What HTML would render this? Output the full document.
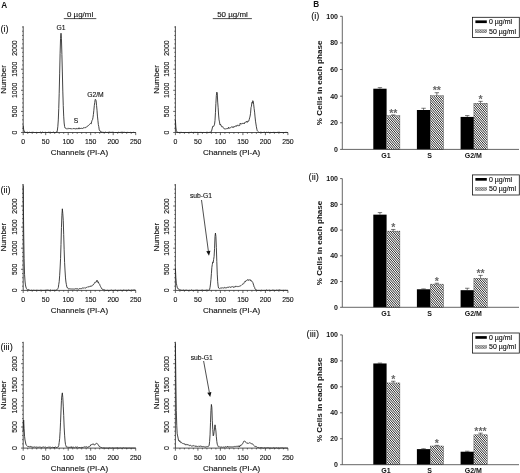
<!DOCTYPE html>
<html><head><meta charset="utf-8"><title>Figure</title>
<style>
html,body{margin:0;padding:0;background:#fff;}
body{width:520px;height:473px;overflow:hidden;}
svg{display:block;will-change:transform;font-family:"Liberation Sans",Arial,sans-serif;}
.ax{fill:none;stroke:#333;stroke-width:0.85;}
.tk{fill:none;stroke:#2a2a2a;stroke-width:0.7;}
.cv{fill:none;stroke:#222;stroke-width:0.85;stroke-linejoin:round;}
.tl{font-size:6.9px;fill:#111;stroke:#111;stroke-width:0.12;}
.al{font-size:8.05px;fill:#111;stroke:#111;stroke-width:0.12;}
.pl{font-size:6.75px;fill:#111;stroke:#111;stroke-width:0.12;}
.ttl{font-size:7.95px;fill:#111;stroke:#111;stroke-width:0.12;}
.pan{font-size:8.2px;font-weight:bold;fill:#111;}
.sub{font-size:9.3px;fill:#111;stroke:#111;stroke-width:0.1;}
.bax{fill:none;stroke:#333;stroke-width:0.75;}
.eb{fill:none;stroke:#222;stroke-width:0.6;}
.btl{font-size:7px;font-weight:bold;fill:#111;}
.byl{font-size:8.1px;font-weight:bold;fill:#111;}
.lg{font-size:7px;fill:#000;stroke:#000;stroke-width:0.1;}
.star{font-size:10.6px;fill:#666;font-weight:bold;}
.arr{fill:none;stroke:#222;stroke-width:0.8;}
</style></head><body>
<svg width="520" height="473" viewBox="0 0 520 473">
<defs>
<pattern id="h1" width="1.55" height="1.55" patternUnits="userSpaceOnUse" patternTransform="rotate(-45)">
<rect width="1.55" height="1.55" fill="#fff"/><rect width="0.75" height="1.55" fill="#2a2a2a"/>
</pattern>
</defs>
<rect width="520" height="473" fill="#fff"/>
<path d="M23.20,26.20 V132.50 H135.70" class="ax"/>
<path d="M21.00,132.50H23.20M22.10,128.28H23.20M22.10,124.06H23.20M22.10,119.84H23.20M22.10,115.62H23.20M21.00,111.40H23.20M22.10,107.18H23.20M22.10,102.96H23.20M22.10,98.74H23.20M22.10,94.52H23.20M21.00,90.30H23.20M22.10,86.08H23.20M22.10,81.86H23.20M22.10,77.64H23.20M22.10,73.42H23.20M21.00,69.20H23.20M22.10,64.98H23.20M22.10,60.76H23.20M22.10,56.54H23.20M22.10,52.32H23.20M21.00,48.10H23.20M22.10,43.88H23.20M22.10,39.66H23.20M22.10,35.44H23.20M22.10,31.22H23.20M22.10,27.00H23.20M23.20,132.50v2.6M27.70,132.50v1.3M32.20,132.50v1.3M36.70,132.50v1.3M41.20,132.50v1.3M45.70,132.50v2.6M50.20,132.50v1.3M54.70,132.50v1.3M59.20,132.50v1.3M63.70,132.50v1.3M68.20,132.50v2.6M72.70,132.50v1.3M77.20,132.50v1.3M81.70,132.50v1.3M86.20,132.50v1.3M90.70,132.50v2.6M95.20,132.50v1.3M99.70,132.50v1.3M104.20,132.50v1.3M108.70,132.50v1.3M113.20,132.50v2.6M117.70,132.50v1.3M122.20,132.50v1.3M126.70,132.50v1.3M131.20,132.50v1.3M135.70,132.50v2.6" class="tk"/>
<text x="23.20" y="144.40" class="tl" text-anchor="middle">0</text>
<text x="45.70" y="144.40" class="tl" text-anchor="middle">50</text>
<text x="68.20" y="144.40" class="tl" text-anchor="middle">100</text>
<text x="90.70" y="144.40" class="tl" text-anchor="middle">150</text>
<text x="113.20" y="144.40" class="tl" text-anchor="middle">200</text>
<text x="135.70" y="144.40" class="tl" text-anchor="middle">250</text>
<text transform="translate(16.60,132.50) rotate(-90)" class="tl" text-anchor="middle">0</text>
<text transform="translate(16.60,111.40) rotate(-90)" class="tl" text-anchor="middle">500</text>
<text transform="translate(16.60,90.30) rotate(-90)" class="tl" text-anchor="middle">1000</text>
<text transform="translate(16.60,69.20) rotate(-90)" class="tl" text-anchor="middle">1500</text>
<text transform="translate(16.60,48.10) rotate(-90)" class="tl" text-anchor="middle">2000</text>
<text transform="translate(6.30,79.35) rotate(-90)" class="al" text-anchor="middle">Number</text>
<text x="79.45" y="154.90" class="al" text-anchor="middle">Channels (PI-A)</text>
<path d="M23.20,125.58 L23.65,129.44 L24.10,130.98 L24.55,131.93 L25.00,131.83 L25.45,132.50 L25.90,131.94 L26.35,132.50 L26.80,132.39 L27.25,132.50 L27.70,132.12 L28.15,132.50 L28.60,132.50 L29.05,132.50 L29.50,132.21 L29.95,132.50 L30.40,132.50 L30.85,132.50 L31.30,132.49 L31.75,132.35 L32.20,132.50 L32.65,132.21 L33.10,132.27 L33.55,132.37 L34.00,132.27 L34.45,132.50 L34.90,132.50 L35.35,132.50 L35.80,132.50 L36.25,132.37 L36.70,132.50 L37.15,132.50 L37.60,132.50 L38.05,132.50 L38.50,132.50 L38.95,132.50 L39.40,132.50 L39.85,132.44 L40.30,132.08 L40.75,132.31 L41.20,132.50 L41.65,132.50 L42.10,132.50 L42.55,132.07 L43.00,132.49 L43.45,132.50 L43.90,132.45 L44.35,131.97 L44.80,132.47 L45.25,132.34 L45.70,132.42 L46.15,132.50 L46.60,132.50 L47.05,132.50 L47.50,132.50 L47.95,132.35 L48.40,132.29 L48.85,132.26 L49.30,132.43 L49.75,132.28 L50.20,132.50 L50.65,132.18 L51.10,132.37 L51.55,132.50 L52.00,132.38 L52.45,132.50 L52.90,132.21 L53.35,132.12 L53.80,131.95 L54.25,132.50 L54.70,132.50 L55.15,132.50 L55.60,132.43 L56.05,132.18 L56.50,132.10 L56.95,132.10 L57.40,130.09 L57.85,126.29 L58.30,119.91 L58.75,108.51 L59.20,93.32 L59.65,73.87 L60.10,53.70 L60.55,38.43 L61.00,33.23 L61.45,38.75 L61.90,54.52 L62.35,71.98 L62.80,91.10 L63.25,105.57 L63.70,116.19 L64.15,123.00 L64.60,126.47 L65.05,128.03 L65.50,128.27 L65.95,128.59 L66.40,128.79 L66.85,128.68 L67.30,128.90 L67.75,128.48 L68.20,128.85 L68.65,128.31 L69.10,128.57 L69.55,128.51 L70.00,129.05 L70.45,128.65 L70.90,128.47 L71.35,129.01 L71.80,128.79 L72.25,128.69 L72.70,129.14 L73.15,128.60 L73.60,128.43 L74.05,128.98 L74.50,128.59 L74.95,129.12 L75.40,128.71 L75.85,129.22 L76.30,128.34 L76.75,128.57 L77.20,128.71 L77.65,128.91 L78.10,128.21 L78.55,127.94 L79.00,129.13 L79.45,128.09 L79.90,127.92 L80.35,128.29 L80.80,128.75 L81.25,128.03 L81.70,128.33 L82.15,128.41 L82.60,128.57 L83.05,127.92 L83.50,127.77 L83.95,128.16 L84.40,127.68 L84.85,128.13 L85.30,127.33 L85.75,127.42 L86.20,127.29 L86.65,127.02 L87.10,126.40 L87.55,126.11 L88.00,125.82 L88.45,125.56 L88.90,125.16 L89.35,124.50 L89.80,124.20 L90.25,123.58 L90.70,123.54 L91.15,123.95 L91.60,121.86 L92.05,120.42 L92.50,119.73 L92.95,117.71 L93.40,114.46 L93.85,110.29 L94.30,105.63 L94.75,102.45 L95.20,99.41 L95.65,99.55 L96.10,100.73 L96.55,105.40 L97.00,110.22 L97.45,116.10 L97.90,120.38 L98.35,124.57 L98.80,126.67 L99.25,129.89 L99.70,130.71 L100.15,131.04 L100.60,131.08 L101.05,132.10 L101.50,132.20 L101.95,132.38 L102.40,132.05 L102.85,132.50 L103.30,132.29 L103.75,132.50 L104.20,132.50 L104.65,132.41 L105.10,132.37 L105.55,132.17 L106.00,132.50 L106.45,132.50 L106.90,132.36 L107.35,132.44 L107.80,132.43 L108.25,132.50 L108.70,132.21 L109.15,132.41 L109.60,132.02 L110.05,132.22 L110.50,132.33 L110.95,132.50 L111.40,132.35 L111.85,132.39 L112.30,132.29 L112.75,132.24 L113.20,132.50 L113.65,132.29 L114.10,132.50 L114.55,132.01 L115.00,132.50 L115.45,132.50 L115.90,132.50 L116.35,132.50 L116.80,132.50 L117.25,132.00 L117.70,132.50 L118.15,132.50 L118.60,132.22 L119.05,132.50 L119.50,132.50 L119.95,132.28 L120.40,132.34 L120.85,132.50 L121.30,132.14 L121.75,132.47 L122.20,132.09 L122.65,132.37 L123.10,132.11 L123.55,132.47 L124.00,132.50 L124.45,131.88 L124.90,132.50 L125.35,132.50 L125.80,132.50 L126.25,132.50 L126.70,132.44 L127.15,132.45 L127.60,132.33 L128.05,132.05 L128.50,132.50 L128.95,132.50 L129.40,132.50 L129.85,132.50 L130.30,132.50 L130.75,132.29 L131.20,132.50 L131.65,132.50 L132.10,132.50 L132.55,132.50 L133.00,132.50 L133.45,132.33 L133.90,132.34 L134.35,132.50 L134.80,132.04 L135.25,132.50 L135.70,132.50" class="cv"/>
<path d="M175.40,26.20 V132.50 H287.90" class="ax"/>
<path d="M173.20,132.50H175.40M174.30,128.28H175.40M174.30,124.06H175.40M174.30,119.84H175.40M174.30,115.62H175.40M173.20,111.40H175.40M174.30,107.18H175.40M174.30,102.96H175.40M174.30,98.74H175.40M174.30,94.52H175.40M173.20,90.30H175.40M174.30,86.08H175.40M174.30,81.86H175.40M174.30,77.64H175.40M174.30,73.42H175.40M173.20,69.20H175.40M174.30,64.98H175.40M174.30,60.76H175.40M174.30,56.54H175.40M174.30,52.32H175.40M173.20,48.10H175.40M174.30,43.88H175.40M174.30,39.66H175.40M174.30,35.44H175.40M174.30,31.22H175.40M174.30,27.00H175.40M175.40,132.50v2.6M179.90,132.50v1.3M184.40,132.50v1.3M188.90,132.50v1.3M193.40,132.50v1.3M197.90,132.50v2.6M202.40,132.50v1.3M206.90,132.50v1.3M211.40,132.50v1.3M215.90,132.50v1.3M220.40,132.50v2.6M224.90,132.50v1.3M229.40,132.50v1.3M233.90,132.50v1.3M238.40,132.50v1.3M242.90,132.50v2.6M247.40,132.50v1.3M251.90,132.50v1.3M256.40,132.50v1.3M260.90,132.50v1.3M265.40,132.50v2.6M269.90,132.50v1.3M274.40,132.50v1.3M278.90,132.50v1.3M283.40,132.50v1.3M287.90,132.50v2.6" class="tk"/>
<text x="175.40" y="144.40" class="tl" text-anchor="middle">0</text>
<text x="197.90" y="144.40" class="tl" text-anchor="middle">50</text>
<text x="220.40" y="144.40" class="tl" text-anchor="middle">100</text>
<text x="242.90" y="144.40" class="tl" text-anchor="middle">150</text>
<text x="265.40" y="144.40" class="tl" text-anchor="middle">200</text>
<text x="287.90" y="144.40" class="tl" text-anchor="middle">250</text>
<text transform="translate(168.80,132.50) rotate(-90)" class="tl" text-anchor="middle">0</text>
<text transform="translate(168.80,111.40) rotate(-90)" class="tl" text-anchor="middle">500</text>
<text transform="translate(168.80,90.30) rotate(-90)" class="tl" text-anchor="middle">1000</text>
<text transform="translate(168.80,69.20) rotate(-90)" class="tl" text-anchor="middle">1500</text>
<text transform="translate(168.80,48.10) rotate(-90)" class="tl" text-anchor="middle">2000</text>
<text transform="translate(158.50,79.35) rotate(-90)" class="al" text-anchor="middle">Number</text>
<text x="231.65" y="154.90" class="al" text-anchor="middle">Channels (PI-A)</text>
<path d="M175.40,120.04 L175.85,127.02 L176.30,130.74 L176.75,131.02 L177.20,132.50 L177.65,132.50 L178.10,132.29 L178.55,132.50 L179.00,132.50 L179.45,132.50 L179.90,132.36 L180.35,131.92 L180.80,132.49 L181.25,132.50 L181.70,132.36 L182.15,132.50 L182.60,132.50 L183.05,132.20 L183.50,132.50 L183.95,132.50 L184.40,132.50 L184.85,132.50 L185.30,132.44 L185.75,132.50 L186.20,132.50 L186.65,132.50 L187.10,132.50 L187.55,132.50 L188.00,132.50 L188.45,132.50 L188.90,132.50 L189.35,131.94 L189.80,132.50 L190.25,132.47 L190.70,132.41 L191.15,132.16 L191.60,132.37 L192.05,132.50 L192.50,132.50 L192.95,132.36 L193.40,132.50 L193.85,132.30 L194.30,132.50 L194.75,132.06 L195.20,132.13 L195.65,132.50 L196.10,132.35 L196.55,132.49 L197.00,132.50 L197.45,132.48 L197.90,132.25 L198.35,132.50 L198.80,132.50 L199.25,132.50 L199.70,132.39 L200.15,132.18 L200.60,132.50 L201.05,132.37 L201.50,132.45 L201.95,132.50 L202.40,132.50 L202.85,132.50 L203.30,132.50 L203.75,132.42 L204.20,132.50 L204.65,132.49 L205.10,132.50 L205.55,132.50 L206.00,132.37 L206.45,132.31 L206.90,132.50 L207.35,132.29 L207.80,132.50 L208.25,132.48 L208.70,132.50 L209.15,132.10 L209.60,132.50 L210.05,132.48 L210.50,132.17 L210.95,132.50 L211.40,131.34 L211.85,130.02 L212.30,128.02 L212.75,126.27 L213.20,126.05 L213.65,126.47 L214.10,125.55 L214.55,124.15 L215.00,120.54 L215.45,112.67 L215.90,103.47 L216.35,95.39 L216.80,92.14 L217.25,93.07 L217.70,102.11 L218.15,107.80 L218.60,115.02 L219.05,119.92 L219.50,121.91 L219.95,124.71 L220.40,124.08 L220.85,125.01 L221.30,126.20 L221.75,126.26 L222.20,127.11 L222.65,126.65 L223.10,127.35 L223.55,128.14 L224.00,128.75 L224.45,128.83 L224.90,128.80 L225.35,128.87 L225.80,128.94 L226.25,128.78 L226.70,128.61 L227.15,128.60 L227.60,128.57 L228.05,128.55 L228.50,127.30 L228.95,128.52 L229.40,128.27 L229.85,127.67 L230.30,127.81 L230.75,127.43 L231.20,127.18 L231.65,126.90 L232.10,126.94 L232.55,127.42 L233.00,126.55 L233.45,127.43 L233.90,126.71 L234.35,126.71 L234.80,126.78 L235.25,126.04 L235.70,126.17 L236.15,125.58 L236.60,126.36 L237.05,125.34 L237.50,125.32 L237.95,125.31 L238.40,125.74 L238.85,125.14 L239.30,125.48 L239.75,125.53 L240.20,123.27 L240.65,124.01 L241.10,123.51 L241.55,124.23 L242.00,123.61 L242.45,123.44 L242.90,123.30 L243.35,123.38 L243.80,123.30 L244.25,123.89 L244.70,122.59 L245.15,122.49 L245.60,122.01 L246.05,122.43 L246.50,121.36 L246.95,122.12 L247.40,122.26 L247.85,121.02 L248.30,121.27 L248.75,121.07 L249.20,119.54 L249.65,117.84 L250.10,116.09 L250.55,113.24 L251.00,107.64 L251.45,106.23 L251.90,102.48 L252.35,103.18 L252.80,100.68 L253.25,101.37 L253.70,104.76 L254.15,108.72 L254.60,112.13 L255.05,116.92 L255.50,121.15 L255.95,123.99 L256.40,126.80 L256.85,129.18 L257.30,130.72 L257.75,131.26 L258.20,131.66 L258.65,131.98 L259.10,132.50 L259.55,132.47 L260.00,132.34 L260.45,132.30 L260.90,132.24 L261.35,132.30 L261.80,132.50 L262.25,132.50 L262.70,132.50 L263.15,132.04 L263.60,132.45 L264.05,132.36 L264.50,132.24 L264.95,132.50 L265.40,132.50 L265.85,132.50 L266.30,132.50 L266.75,132.12 L267.20,132.28 L267.65,132.50 L268.10,132.33 L268.55,132.31 L269.00,132.50 L269.45,132.50 L269.90,132.50 L270.35,132.42 L270.80,132.50 L271.25,132.50 L271.70,132.50 L272.15,132.44 L272.60,132.50 L273.05,132.42 L273.50,132.36 L273.95,132.50 L274.40,132.50 L274.85,131.96 L275.30,132.47 L275.75,132.50 L276.20,132.48 L276.65,132.50 L277.10,132.21 L277.55,132.41 L278.00,132.23 L278.45,132.27 L278.90,132.40 L279.35,132.25 L279.80,132.45 L280.25,132.50 L280.70,132.50 L281.15,132.50 L281.60,132.50 L282.05,132.04 L282.50,132.50 L282.95,132.50 L283.40,132.50 L283.85,132.50 L284.30,132.50 L284.75,132.50 L285.20,132.50 L285.65,132.36 L286.10,132.50 L286.55,132.40 L287.00,132.37 L287.45,132.50 L287.90,132.50" class="cv"/>
<path d="M23.20,184.10 V290.40 H135.70" class="ax"/>
<path d="M21.00,290.40H23.20M22.10,286.18H23.20M22.10,281.96H23.20M22.10,277.74H23.20M22.10,273.52H23.20M21.00,269.30H23.20M22.10,265.08H23.20M22.10,260.86H23.20M22.10,256.64H23.20M22.10,252.42H23.20M21.00,248.20H23.20M22.10,243.98H23.20M22.10,239.76H23.20M22.10,235.54H23.20M22.10,231.32H23.20M21.00,227.10H23.20M22.10,222.88H23.20M22.10,218.66H23.20M22.10,214.44H23.20M22.10,210.22H23.20M21.00,206.00H23.20M22.10,201.78H23.20M22.10,197.56H23.20M22.10,193.34H23.20M22.10,189.12H23.20M22.10,184.90H23.20M23.20,290.40v2.6M27.70,290.40v1.3M32.20,290.40v1.3M36.70,290.40v1.3M41.20,290.40v1.3M45.70,290.40v2.6M50.20,290.40v1.3M54.70,290.40v1.3M59.20,290.40v1.3M63.70,290.40v1.3M68.20,290.40v2.6M72.70,290.40v1.3M77.20,290.40v1.3M81.70,290.40v1.3M86.20,290.40v1.3M90.70,290.40v2.6M95.20,290.40v1.3M99.70,290.40v1.3M104.20,290.40v1.3M108.70,290.40v1.3M113.20,290.40v2.6M117.70,290.40v1.3M122.20,290.40v1.3M126.70,290.40v1.3M131.20,290.40v1.3M135.70,290.40v2.6" class="tk"/>
<text x="23.20" y="302.30" class="tl" text-anchor="middle">0</text>
<text x="45.70" y="302.30" class="tl" text-anchor="middle">50</text>
<text x="68.20" y="302.30" class="tl" text-anchor="middle">100</text>
<text x="90.70" y="302.30" class="tl" text-anchor="middle">150</text>
<text x="113.20" y="302.30" class="tl" text-anchor="middle">200</text>
<text x="135.70" y="302.30" class="tl" text-anchor="middle">250</text>
<text transform="translate(16.60,290.40) rotate(-90)" class="tl" text-anchor="middle">0</text>
<text transform="translate(16.60,269.30) rotate(-90)" class="tl" text-anchor="middle">500</text>
<text transform="translate(16.60,248.20) rotate(-90)" class="tl" text-anchor="middle">1000</text>
<text transform="translate(16.60,227.10) rotate(-90)" class="tl" text-anchor="middle">1500</text>
<text transform="translate(16.60,206.00) rotate(-90)" class="tl" text-anchor="middle">2000</text>
<text transform="translate(6.30,237.25) rotate(-90)" class="al" text-anchor="middle">Number</text>
<text x="79.45" y="312.80" class="al" text-anchor="middle">Channels (PI-A)</text>
<path d="M23.20,185.74 L23.65,228.98 L24.10,258.54 L24.55,274.34 L25.00,280.97 L25.45,284.95 L25.90,287.00 L26.35,288.37 L26.80,288.92 L27.25,289.48 L27.70,290.00 L28.15,289.61 L28.60,289.75 L29.05,289.64 L29.50,290.15 L29.95,290.32 L30.40,290.40 L30.85,290.40 L31.30,290.07 L31.75,290.40 L32.20,290.40 L32.65,290.40 L33.10,289.99 L33.55,290.32 L34.00,290.40 L34.45,290.40 L34.90,290.23 L35.35,290.40 L35.80,290.40 L36.25,290.40 L36.70,290.21 L37.15,289.90 L37.60,290.40 L38.05,290.40 L38.50,290.40 L38.95,290.40 L39.40,290.40 L39.85,290.40 L40.30,290.11 L40.75,290.40 L41.20,290.40 L41.65,290.24 L42.10,290.40 L42.55,290.40 L43.00,290.40 L43.45,290.40 L43.90,290.40 L44.35,290.39 L44.80,290.40 L45.25,290.40 L45.70,290.14 L46.15,290.18 L46.60,290.12 L47.05,290.12 L47.50,290.02 L47.95,290.40 L48.40,290.19 L48.85,290.40 L49.30,290.40 L49.75,290.40 L50.20,290.13 L50.65,290.06 L51.10,290.40 L51.55,289.95 L52.00,290.40 L52.45,290.36 L52.90,290.36 L53.35,290.40 L53.80,290.29 L54.25,289.91 L54.70,290.40 L55.15,290.16 L55.60,290.40 L56.05,289.87 L56.50,290.08 L56.95,289.79 L57.40,289.32 L57.85,288.56 L58.30,287.59 L58.75,284.29 L59.20,281.73 L59.65,275.77 L60.10,268.01 L60.55,258.72 L61.00,244.39 L61.45,227.59 L61.90,215.21 L62.35,208.81 L62.80,213.62 L63.25,220.36 L63.70,234.67 L64.15,249.75 L64.60,262.63 L65.05,270.99 L65.50,277.93 L65.95,282.05 L66.40,284.62 L66.85,286.94 L67.30,287.83 L67.75,287.71 L68.20,288.40 L68.65,289.17 L69.10,288.90 L69.55,288.75 L70.00,288.57 L70.45,288.88 L70.90,289.07 L71.35,289.13 L71.80,288.74 L72.25,288.84 L72.70,289.07 L73.15,288.98 L73.60,289.04 L74.05,288.72 L74.50,289.12 L74.95,288.79 L75.40,288.68 L75.85,288.79 L76.30,289.15 L76.75,288.54 L77.20,289.11 L77.65,288.76 L78.10,289.05 L78.55,289.29 L79.00,288.70 L79.45,288.64 L79.90,288.70 L80.35,288.55 L80.80,288.76 L81.25,288.73 L81.70,288.51 L82.15,287.85 L82.60,288.09 L83.05,288.40 L83.50,288.01 L83.95,288.22 L84.40,288.12 L84.85,287.62 L85.30,287.93 L85.75,288.16 L86.20,287.81 L86.65,287.39 L87.10,287.25 L87.55,286.78 L88.00,287.27 L88.45,286.70 L88.90,286.67 L89.35,286.73 L89.80,286.29 L90.25,286.26 L90.70,286.53 L91.15,285.74 L91.60,286.30 L92.05,285.62 L92.50,285.32 L92.95,284.78 L93.40,284.74 L93.85,283.98 L94.30,283.48 L94.75,282.48 L95.20,282.65 L95.65,281.84 L96.10,281.62 L96.55,281.84 L97.00,280.17 L97.45,281.47 L97.90,282.40 L98.35,281.78 L98.80,283.45 L99.25,283.71 L99.70,284.43 L100.15,285.84 L100.60,286.62 L101.05,287.44 L101.50,288.01 L101.95,289.02 L102.40,289.38 L102.85,289.45 L103.30,289.43 L103.75,289.75 L104.20,289.63 L104.65,290.01 L105.10,290.39 L105.55,290.34 L106.00,290.40 L106.45,290.40 L106.90,290.40 L107.35,290.32 L107.80,290.23 L108.25,290.40 L108.70,290.40 L109.15,290.40 L109.60,290.40 L110.05,290.34 L110.50,290.29 L110.95,290.40 L111.40,289.90 L111.85,290.10 L112.30,290.40 L112.75,290.40 L113.20,290.40 L113.65,290.36 L114.10,290.40 L114.55,290.28 L115.00,290.21 L115.45,290.05 L115.90,290.11 L116.35,290.40 L116.80,290.30 L117.25,290.40 L117.70,290.40 L118.15,289.92 L118.60,290.40 L119.05,289.90 L119.50,290.40 L119.95,290.34 L120.40,290.12 L120.85,290.39 L121.30,290.30 L121.75,290.40 L122.20,290.40 L122.65,290.40 L123.10,290.40 L123.55,289.99 L124.00,290.40 L124.45,289.96 L124.90,290.40 L125.35,290.40 L125.80,290.26 L126.25,290.40 L126.70,290.12 L127.15,290.24 L127.60,290.40 L128.05,290.29 L128.50,289.69 L128.95,290.34 L129.40,290.32 L129.85,290.40 L130.30,290.37 L130.75,290.40 L131.20,290.40 L131.65,289.78 L132.10,290.13 L132.55,290.24 L133.00,290.12 L133.45,289.92 L133.90,290.25 L134.35,289.88 L134.80,290.13 L135.25,290.36 L135.70,289.96" class="cv"/>
<path d="M175.40,184.10 V290.40 H287.90" class="ax"/>
<path d="M173.20,290.40H175.40M174.30,286.18H175.40M174.30,281.96H175.40M174.30,277.74H175.40M174.30,273.52H175.40M173.20,269.30H175.40M174.30,265.08H175.40M174.30,260.86H175.40M174.30,256.64H175.40M174.30,252.42H175.40M173.20,248.20H175.40M174.30,243.98H175.40M174.30,239.76H175.40M174.30,235.54H175.40M174.30,231.32H175.40M173.20,227.10H175.40M174.30,222.88H175.40M174.30,218.66H175.40M174.30,214.44H175.40M174.30,210.22H175.40M173.20,206.00H175.40M174.30,201.78H175.40M174.30,197.56H175.40M174.30,193.34H175.40M174.30,189.12H175.40M174.30,184.90H175.40M175.40,290.40v2.6M179.90,290.40v1.3M184.40,290.40v1.3M188.90,290.40v1.3M193.40,290.40v1.3M197.90,290.40v2.6M202.40,290.40v1.3M206.90,290.40v1.3M211.40,290.40v1.3M215.90,290.40v1.3M220.40,290.40v2.6M224.90,290.40v1.3M229.40,290.40v1.3M233.90,290.40v1.3M238.40,290.40v1.3M242.90,290.40v2.6M247.40,290.40v1.3M251.90,290.40v1.3M256.40,290.40v1.3M260.90,290.40v1.3M265.40,290.40v2.6M269.90,290.40v1.3M274.40,290.40v1.3M278.90,290.40v1.3M283.40,290.40v1.3M287.90,290.40v2.6" class="tk"/>
<text x="175.40" y="302.30" class="tl" text-anchor="middle">0</text>
<text x="197.90" y="302.30" class="tl" text-anchor="middle">50</text>
<text x="220.40" y="302.30" class="tl" text-anchor="middle">100</text>
<text x="242.90" y="302.30" class="tl" text-anchor="middle">150</text>
<text x="265.40" y="302.30" class="tl" text-anchor="middle">200</text>
<text x="287.90" y="302.30" class="tl" text-anchor="middle">250</text>
<text transform="translate(168.80,290.40) rotate(-90)" class="tl" text-anchor="middle">0</text>
<text transform="translate(168.80,269.30) rotate(-90)" class="tl" text-anchor="middle">500</text>
<text transform="translate(168.80,248.20) rotate(-90)" class="tl" text-anchor="middle">1000</text>
<text transform="translate(168.80,227.10) rotate(-90)" class="tl" text-anchor="middle">1500</text>
<text transform="translate(168.80,206.00) rotate(-90)" class="tl" text-anchor="middle">2000</text>
<text transform="translate(158.50,237.25) rotate(-90)" class="al" text-anchor="middle">Number</text>
<text x="231.65" y="312.80" class="al" text-anchor="middle">Channels (PI-A)</text>
<path d="M175.40,268.42 L175.85,277.58 L176.30,283.15 L176.75,285.25 L177.20,287.18 L177.65,288.47 L178.10,288.81 L178.55,288.88 L179.00,289.26 L179.45,289.88 L179.90,289.58 L180.35,289.90 L180.80,289.88 L181.25,289.98 L181.70,290.40 L182.15,290.10 L182.60,290.39 L183.05,289.87 L183.50,290.11 L183.95,290.30 L184.40,290.40 L184.85,290.33 L185.30,290.31 L185.75,290.40 L186.20,289.81 L186.65,290.28 L187.10,289.95 L187.55,290.40 L188.00,289.97 L188.45,290.40 L188.90,290.40 L189.35,290.26 L189.80,290.38 L190.25,290.40 L190.70,290.40 L191.15,290.19 L191.60,289.87 L192.05,290.17 L192.50,290.40 L192.95,290.20 L193.40,290.40 L193.85,290.27 L194.30,290.40 L194.75,290.40 L195.20,290.40 L195.65,290.20 L196.10,290.40 L196.55,290.10 L197.00,290.40 L197.45,290.19 L197.90,290.20 L198.35,290.40 L198.80,290.39 L199.25,290.39 L199.70,290.40 L200.15,290.35 L200.60,290.40 L201.05,290.26 L201.50,290.27 L201.95,290.32 L202.40,289.77 L202.85,290.31 L203.30,290.38 L203.75,290.40 L204.20,290.32 L204.65,290.40 L205.10,290.08 L205.55,290.40 L206.00,290.36 L206.45,289.90 L206.90,290.10 L207.35,290.34 L207.80,290.04 L208.25,290.38 L208.70,290.07 L209.15,289.97 L209.60,289.44 L210.05,287.34 L210.50,283.93 L210.95,279.46 L211.40,273.70 L211.85,267.36 L212.30,264.59 L212.75,261.92 L213.20,262.58 L213.65,259.34 L214.10,256.55 L214.55,248.67 L215.00,236.54 L215.45,233.05 L215.90,236.39 L216.35,247.32 L216.80,261.41 L217.25,274.11 L217.70,281.73 L218.15,286.13 L218.60,288.05 L219.05,288.39 L219.50,288.65 L219.95,288.27 L220.40,288.11 L220.85,288.06 L221.30,288.02 L221.75,288.18 L222.20,287.63 L222.65,288.10 L223.10,287.98 L223.55,288.04 L224.00,287.86 L224.45,287.91 L224.90,287.18 L225.35,287.61 L225.80,288.19 L226.25,287.76 L226.70,288.01 L227.15,287.26 L227.60,287.06 L228.05,287.57 L228.50,287.19 L228.95,287.39 L229.40,287.15 L229.85,286.69 L230.30,287.28 L230.75,287.51 L231.20,286.85 L231.65,286.86 L232.10,286.76 L232.55,286.60 L233.00,287.09 L233.45,287.44 L233.90,286.44 L234.35,286.85 L234.80,287.05 L235.25,286.99 L235.70,286.20 L236.15,286.45 L236.60,286.36 L237.05,286.12 L237.50,286.56 L237.95,286.65 L238.40,286.49 L238.85,286.50 L239.30,286.16 L239.75,286.26 L240.20,285.84 L240.65,285.88 L241.10,285.58 L241.55,285.12 L242.00,284.60 L242.45,284.20 L242.90,284.31 L243.35,283.84 L243.80,283.61 L244.25,282.49 L244.70,281.71 L245.15,282.01 L245.60,280.95 L246.05,280.98 L246.50,280.56 L246.95,280.13 L247.40,280.18 L247.85,279.46 L248.30,280.41 L248.75,280.00 L249.20,279.73 L249.65,280.16 L250.10,279.62 L250.55,280.59 L251.00,280.16 L251.45,281.21 L251.90,281.26 L252.35,281.85 L252.80,282.29 L253.25,284.01 L253.70,285.19 L254.15,286.97 L254.60,287.43 L255.05,288.94 L255.50,289.51 L255.95,290.15 L256.40,289.99 L256.85,289.92 L257.30,290.40 L257.75,290.40 L258.20,290.40 L258.65,290.40 L259.10,290.40 L259.55,290.40 L260.00,290.04 L260.45,290.40 L260.90,290.40 L261.35,290.31 L261.80,290.14 L262.25,290.40 L262.70,290.40 L263.15,290.39 L263.60,290.40 L264.05,290.18 L264.50,290.40 L264.95,290.40 L265.40,290.40 L265.85,290.38 L266.30,290.09 L266.75,289.99 L267.20,290.40 L267.65,290.40 L268.10,290.40 L268.55,289.86 L269.00,290.40 L269.45,290.28 L269.90,289.91 L270.35,290.40 L270.80,290.40 L271.25,290.40 L271.70,290.40 L272.15,290.20 L272.60,290.13 L273.05,290.40 L273.50,290.15 L273.95,290.40 L274.40,290.35 L274.85,290.35 L275.30,290.40 L275.75,290.40 L276.20,290.40 L276.65,289.92 L277.10,289.85 L277.55,290.38 L278.00,290.40 L278.45,290.11 L278.90,290.40 L279.35,289.96 L279.80,289.90 L280.25,289.98 L280.70,290.40 L281.15,290.40 L281.60,290.40 L282.05,290.40 L282.50,290.40 L282.95,290.10 L283.40,290.23 L283.85,290.40 L284.30,290.40 L284.75,290.24 L285.20,290.05 L285.65,290.40 L286.10,290.34 L286.55,290.40 L287.00,290.40 L287.45,290.40 L287.90,290.37" class="cv"/>
<path d="M23.20,341.80 V448.10 H135.70" class="ax"/>
<path d="M21.00,448.10H23.20M22.10,443.88H23.20M22.10,439.66H23.20M22.10,435.44H23.20M22.10,431.22H23.20M21.00,427.00H23.20M22.10,422.78H23.20M22.10,418.56H23.20M22.10,414.34H23.20M22.10,410.12H23.20M21.00,405.90H23.20M22.10,401.68H23.20M22.10,397.46H23.20M22.10,393.24H23.20M22.10,389.02H23.20M21.00,384.80H23.20M22.10,380.58H23.20M22.10,376.36H23.20M22.10,372.14H23.20M22.10,367.92H23.20M21.00,363.70H23.20M22.10,359.48H23.20M22.10,355.26H23.20M22.10,351.04H23.20M22.10,346.82H23.20M22.10,342.60H23.20M23.20,448.10v2.6M27.70,448.10v1.3M32.20,448.10v1.3M36.70,448.10v1.3M41.20,448.10v1.3M45.70,448.10v2.6M50.20,448.10v1.3M54.70,448.10v1.3M59.20,448.10v1.3M63.70,448.10v1.3M68.20,448.10v2.6M72.70,448.10v1.3M77.20,448.10v1.3M81.70,448.10v1.3M86.20,448.10v1.3M90.70,448.10v2.6M95.20,448.10v1.3M99.70,448.10v1.3M104.20,448.10v1.3M108.70,448.10v1.3M113.20,448.10v2.6M117.70,448.10v1.3M122.20,448.10v1.3M126.70,448.10v1.3M131.20,448.10v1.3M135.70,448.10v2.6" class="tk"/>
<text x="23.20" y="460.00" class="tl" text-anchor="middle">0</text>
<text x="45.70" y="460.00" class="tl" text-anchor="middle">50</text>
<text x="68.20" y="460.00" class="tl" text-anchor="middle">100</text>
<text x="90.70" y="460.00" class="tl" text-anchor="middle">150</text>
<text x="113.20" y="460.00" class="tl" text-anchor="middle">200</text>
<text x="135.70" y="460.00" class="tl" text-anchor="middle">250</text>
<text transform="translate(16.60,448.10) rotate(-90)" class="tl" text-anchor="middle">0</text>
<text transform="translate(16.60,427.00) rotate(-90)" class="tl" text-anchor="middle">500</text>
<text transform="translate(16.60,405.90) rotate(-90)" class="tl" text-anchor="middle">1000</text>
<text transform="translate(16.60,384.80) rotate(-90)" class="tl" text-anchor="middle">1500</text>
<text transform="translate(16.60,363.70) rotate(-90)" class="tl" text-anchor="middle">2000</text>
<text transform="translate(6.30,394.95) rotate(-90)" class="al" text-anchor="middle">Number</text>
<text x="79.45" y="470.50" class="al" text-anchor="middle">Channels (PI-A)</text>
<path d="M23.20,431.40 L23.65,420.04 L24.10,428.56 L24.55,436.31 L25.00,440.03 L25.45,441.94 L25.90,444.31 L26.35,445.16 L26.80,445.53 L27.25,446.06 L27.70,446.54 L28.15,446.40 L28.60,446.54 L29.05,446.35 L29.50,447.06 L29.95,446.85 L30.40,446.40 L30.85,446.27 L31.30,447.25 L31.75,446.71 L32.20,447.20 L32.65,447.21 L33.10,447.25 L33.55,447.16 L34.00,446.81 L34.45,446.91 L34.90,447.11 L35.35,447.25 L35.80,447.17 L36.25,447.22 L36.70,446.99 L37.15,447.39 L37.60,447.23 L38.05,447.27 L38.50,447.27 L38.95,447.20 L39.40,447.22 L39.85,446.92 L40.30,447.31 L40.75,446.87 L41.20,447.38 L41.65,447.43 L42.10,447.28 L42.55,447.21 L43.00,447.24 L43.45,446.97 L43.90,447.01 L44.35,447.19 L44.80,447.41 L45.25,447.35 L45.70,446.95 L46.15,447.27 L46.60,447.68 L47.05,447.51 L47.50,447.48 L47.95,447.02 L48.40,447.36 L48.85,446.73 L49.30,447.16 L49.75,447.30 L50.20,447.45 L50.65,447.08 L51.10,447.40 L51.55,447.56 L52.00,447.19 L52.45,447.33 L52.90,447.02 L53.35,447.36 L53.80,448.10 L54.25,447.13 L54.70,447.84 L55.15,446.93 L55.60,446.85 L56.05,447.45 L56.50,447.64 L56.95,447.69 L57.40,447.02 L57.85,447.13 L58.30,446.76 L58.75,445.54 L59.20,442.43 L59.65,438.73 L60.10,431.69 L60.55,422.20 L61.00,410.95 L61.45,400.38 L61.90,395.24 L62.35,392.87 L62.80,397.57 L63.25,406.13 L63.70,415.36 L64.15,427.07 L64.60,435.16 L65.05,441.12 L65.50,444.45 L65.95,445.80 L66.40,446.97 L66.85,447.30 L67.30,447.16 L67.75,447.19 L68.20,447.13 L68.65,447.29 L69.10,447.81 L69.55,447.17 L70.00,447.21 L70.45,447.07 L70.90,447.57 L71.35,446.67 L71.80,447.67 L72.25,447.15 L72.70,447.33 L73.15,447.47 L73.60,447.12 L74.05,447.42 L74.50,447.96 L74.95,447.65 L75.40,447.22 L75.85,446.74 L76.30,447.74 L76.75,447.34 L77.20,446.95 L77.65,447.18 L78.10,447.44 L78.55,447.72 L79.00,447.81 L79.45,447.54 L79.90,447.44 L80.35,447.94 L80.80,447.79 L81.25,447.26 L81.70,447.45 L82.15,447.54 L82.60,447.44 L83.05,447.55 L83.50,447.08 L83.95,446.89 L84.40,446.77 L84.85,447.12 L85.30,447.10 L85.75,446.90 L86.20,446.81 L86.65,446.85 L87.10,446.88 L87.55,447.33 L88.00,447.51 L88.45,446.70 L88.90,446.78 L89.35,446.49 L89.80,446.37 L90.25,446.07 L90.70,444.79 L91.15,444.64 L91.60,444.80 L92.05,444.17 L92.50,444.19 L92.95,444.25 L93.40,443.89 L93.85,444.74 L94.30,445.14 L94.75,444.57 L95.20,444.50 L95.65,443.76 L96.10,443.56 L96.55,443.37 L97.00,443.76 L97.45,443.76 L97.90,444.57 L98.35,444.87 L98.80,445.75 L99.25,446.55 L99.70,446.57 L100.15,447.27 L100.60,446.99 L101.05,447.47 L101.50,447.63 L101.95,447.83 L102.40,447.95 L102.85,448.10 L103.30,447.72 L103.75,448.10 L104.20,447.82 L104.65,448.10 L105.10,448.10 L105.55,448.10 L106.00,448.10 L106.45,448.10 L106.90,447.98 L107.35,448.10 L107.80,448.10 L108.25,448.10 L108.70,448.04 L109.15,447.81 L109.60,447.89 L110.05,448.03 L110.50,448.10 L110.95,447.87 L111.40,448.09 L111.85,448.10 L112.30,447.87 L112.75,447.94 L113.20,447.97 L113.65,448.10 L114.10,448.10 L114.55,448.10 L115.00,448.05 L115.45,448.09 L115.90,447.86 L116.35,448.05 L116.80,448.10 L117.25,447.57 L117.70,448.10 L118.15,448.10 L118.60,448.10 L119.05,447.97 L119.50,448.10 L119.95,448.10 L120.40,448.10 L120.85,447.73 L121.30,448.10 L121.75,448.10 L122.20,448.10 L122.65,448.10 L123.10,448.10 L123.55,447.76 L124.00,448.10 L124.45,448.10 L124.90,448.10 L125.35,448.10 L125.80,447.89 L126.25,447.97 L126.70,448.10 L127.15,448.10 L127.60,448.10 L128.05,447.89 L128.50,448.10 L128.95,448.10 L129.40,448.10 L129.85,447.85 L130.30,448.10 L130.75,448.10 L131.20,448.10 L131.65,448.09 L132.10,448.09 L132.55,448.10 L133.00,448.10 L133.45,448.10 L133.90,448.10 L134.35,448.10 L134.80,448.10 L135.25,447.99 L135.70,448.10" class="cv"/>
<path d="M175.40,341.80 V448.10 H287.90" class="ax"/>
<path d="M173.20,448.10H175.40M174.30,443.88H175.40M174.30,439.66H175.40M174.30,435.44H175.40M174.30,431.22H175.40M173.20,427.00H175.40M174.30,422.78H175.40M174.30,418.56H175.40M174.30,414.34H175.40M174.30,410.12H175.40M173.20,405.90H175.40M174.30,401.68H175.40M174.30,397.46H175.40M174.30,393.24H175.40M174.30,389.02H175.40M173.20,384.80H175.40M174.30,380.58H175.40M174.30,376.36H175.40M174.30,372.14H175.40M174.30,367.92H175.40M173.20,363.70H175.40M174.30,359.48H175.40M174.30,355.26H175.40M174.30,351.04H175.40M174.30,346.82H175.40M174.30,342.60H175.40M175.40,448.10v2.6M179.90,448.10v1.3M184.40,448.10v1.3M188.90,448.10v1.3M193.40,448.10v1.3M197.90,448.10v2.6M202.40,448.10v1.3M206.90,448.10v1.3M211.40,448.10v1.3M215.90,448.10v1.3M220.40,448.10v2.6M224.90,448.10v1.3M229.40,448.10v1.3M233.90,448.10v1.3M238.40,448.10v1.3M242.90,448.10v2.6M247.40,448.10v1.3M251.90,448.10v1.3M256.40,448.10v1.3M260.90,448.10v1.3M265.40,448.10v2.6M269.90,448.10v1.3M274.40,448.10v1.3M278.90,448.10v1.3M283.40,448.10v1.3M287.90,448.10v2.6" class="tk"/>
<text x="175.40" y="460.00" class="tl" text-anchor="middle">0</text>
<text x="197.90" y="460.00" class="tl" text-anchor="middle">50</text>
<text x="220.40" y="460.00" class="tl" text-anchor="middle">100</text>
<text x="242.90" y="460.00" class="tl" text-anchor="middle">150</text>
<text x="265.40" y="460.00" class="tl" text-anchor="middle">200</text>
<text x="287.90" y="460.00" class="tl" text-anchor="middle">250</text>
<text transform="translate(168.80,448.10) rotate(-90)" class="tl" text-anchor="middle">0</text>
<text transform="translate(168.80,427.00) rotate(-90)" class="tl" text-anchor="middle">500</text>
<text transform="translate(168.80,405.90) rotate(-90)" class="tl" text-anchor="middle">1000</text>
<text transform="translate(168.80,384.80) rotate(-90)" class="tl" text-anchor="middle">1500</text>
<text transform="translate(168.80,363.70) rotate(-90)" class="tl" text-anchor="middle">2000</text>
<text transform="translate(158.50,394.95) rotate(-90)" class="al" text-anchor="middle">Number</text>
<text x="231.65" y="470.50" class="al" text-anchor="middle">Channels (PI-A)</text>
<path d="M175.40,343.44 L175.85,380.06 L176.30,410.54 L176.75,425.80 L177.20,433.81 L177.65,435.94 L178.10,438.05 L178.55,440.44 L179.00,440.08 L179.45,441.49 L179.90,440.86 L180.35,441.98 L180.80,442.64 L181.25,442.37 L181.70,443.01 L182.15,443.22 L182.60,443.44 L183.05,443.70 L183.50,443.61 L183.95,443.71 L184.40,444.00 L184.85,443.68 L185.30,444.82 L185.75,444.65 L186.20,444.36 L186.65,445.10 L187.10,444.35 L187.55,444.72 L188.00,445.09 L188.45,444.96 L188.90,445.39 L189.35,445.74 L189.80,445.11 L190.25,445.16 L190.70,445.48 L191.15,445.59 L191.60,446.28 L192.05,445.96 L192.50,445.91 L192.95,445.76 L193.40,445.48 L193.85,446.08 L194.30,446.21 L194.75,445.75 L195.20,446.11 L195.65,446.51 L196.10,445.81 L196.55,446.44 L197.00,446.40 L197.45,446.57 L197.90,446.20 L198.35,446.03 L198.80,446.48 L199.25,446.29 L199.70,446.56 L200.15,445.80 L200.60,446.06 L201.05,446.67 L201.50,446.38 L201.95,446.29 L202.40,446.46 L202.85,446.81 L203.30,446.66 L203.75,446.43 L204.20,446.53 L204.65,446.91 L205.10,446.56 L205.55,446.99 L206.00,447.31 L206.45,446.69 L206.90,446.48 L207.35,446.64 L207.80,446.36 L208.25,446.22 L208.70,446.29 L209.15,445.37 L209.60,441.67 L210.05,434.85 L210.50,422.54 L210.95,410.64 L211.40,404.46 L211.85,407.42 L212.30,420.76 L212.75,429.45 L213.20,435.84 L213.65,435.07 L214.10,431.59 L214.55,428.06 L215.00,424.82 L215.45,427.32 L215.90,430.91 L216.35,436.83 L216.80,441.37 L217.25,444.23 L217.70,445.34 L218.15,446.41 L218.60,446.86 L219.05,446.48 L219.50,446.95 L219.95,447.04 L220.40,447.23 L220.85,446.92 L221.30,446.94 L221.75,447.16 L222.20,447.49 L222.65,447.01 L223.10,446.94 L223.55,447.08 L224.00,447.23 L224.45,447.26 L224.90,447.10 L225.35,446.59 L225.80,446.92 L226.25,447.40 L226.70,446.77 L227.15,447.06 L227.60,446.29 L228.05,447.01 L228.50,446.93 L228.95,446.84 L229.40,446.80 L229.85,446.85 L230.30,446.83 L230.75,446.88 L231.20,446.95 L231.65,446.87 L232.10,447.06 L232.55,446.85 L233.00,446.85 L233.45,446.75 L233.90,446.71 L234.35,446.59 L234.80,446.37 L235.25,446.54 L235.70,446.38 L236.15,446.28 L236.60,446.39 L237.05,446.29 L237.50,446.09 L237.95,446.62 L238.40,445.89 L238.85,446.15 L239.30,447.02 L239.75,445.70 L240.20,446.08 L240.65,445.27 L241.10,445.55 L241.55,444.90 L242.00,444.08 L242.45,443.89 L242.90,443.26 L243.35,442.29 L243.80,441.25 L244.25,441.09 L244.70,441.00 L245.15,441.65 L245.60,442.02 L246.05,442.27 L246.50,442.81 L246.95,443.51 L247.40,443.07 L247.85,443.47 L248.30,443.47 L248.75,443.02 L249.20,442.99 L249.65,442.61 L250.10,442.83 L250.55,443.17 L251.00,443.22 L251.45,443.64 L251.90,443.87 L252.35,443.70 L252.80,444.35 L253.25,444.97 L253.70,445.32 L254.15,445.75 L254.60,445.96 L255.05,446.63 L255.50,446.30 L255.95,446.80 L256.40,446.75 L256.85,446.87 L257.30,447.22 L257.75,447.71 L258.20,447.88 L258.65,447.44 L259.10,447.52 L259.55,448.10 L260.00,448.09 L260.45,447.61 L260.90,447.91 L261.35,447.44 L261.80,447.85 L262.25,447.76 L262.70,448.03 L263.15,448.10 L263.60,448.10 L264.05,448.10 L264.50,447.77 L264.95,447.86 L265.40,448.10 L265.85,447.81 L266.30,448.10 L266.75,447.68 L267.20,447.97 L267.65,447.66 L268.10,448.10 L268.55,447.73 L269.00,447.86 L269.45,448.01 L269.90,448.10 L270.35,448.01 L270.80,448.03 L271.25,448.10 L271.70,448.10 L272.15,448.10 L272.60,448.10 L273.05,447.81 L273.50,447.80 L273.95,447.67 L274.40,447.98 L274.85,448.10 L275.30,448.10 L275.75,448.10 L276.20,448.10 L276.65,447.75 L277.10,448.10 L277.55,448.10 L278.00,447.97 L278.45,447.91 L278.90,447.85 L279.35,448.10 L279.80,448.10 L280.25,448.10 L280.70,447.91 L281.15,448.05 L281.60,448.10 L282.05,447.62 L282.50,448.10 L282.95,448.10 L283.40,448.10 L283.85,448.10 L284.30,448.10 L284.75,448.09 L285.20,448.03 L285.65,448.02 L286.10,448.10 L286.55,448.10 L287.00,447.82 L287.45,448.10 L287.90,447.82" class="cv"/>
<text x="1.3" y="7.8" class="pan">A</text>
<text x="313.2" y="7.2" class="pan">B</text>
<text x="0.4" y="32.2" class="sub">(i)</text>
<text x="0.4" y="192.6" class="sub">(ii)</text>
<text x="0.4" y="350.4" class="sub">(iii)</text>
<text x="311.2" y="19.4" class="sub">(i)</text>
<text x="308.6" y="179.6" class="sub">(ii)</text>
<text x="306.6" y="337.2" class="sub">(iii)</text>
<text x="80.1" y="17.3" class="ttl" text-anchor="middle">0 µg/ml</text>
<path d="M63.8,18.6H96.3" class="arr"/>
<text x="232.5" y="17.3" class="ttl" text-anchor="middle">50 µg/ml</text>
<path d="M212.8,18.6H251.9" class="arr"/>
<text x="61" y="29.6" class="pl" text-anchor="middle">G1</text>
<text x="95.5" y="96.8" class="pl" text-anchor="middle">G2/M</text>
<text x="76" y="122.6" class="pl" text-anchor="middle">S</text>
<text x="201" y="197.8" class="pl" text-anchor="middle">sub-G1</text>
<text x="201.8" y="359.6" class="pl" text-anchor="middle">sub-G1</text>
<path d="M201.50,200.00L208.36,251.04" class="arr"/><path d="M209.00,255.80L206.28,251.32L210.44,250.76Z" fill="#111"/>
<path d="M203.60,361.00L209.33,392.28" class="arr"/><path d="M210.20,397.00L207.27,392.66L211.40,391.90Z" fill="#111"/>
<rect x="373.30" y="88.71" width="13.3" height="60.69" fill="#000"/>
<clipPath id="c1"><rect x="386.60" y="115.73" width="13.30" height="33.67"/></clipPath><rect x="386.60" y="115.73" width="13.30" height="33.67" fill="#fff"/><path d="M385.60,95.75l15.30,17.59M385.60,98.30l15.30,17.59M385.60,100.85l15.30,17.59M385.60,103.40l15.30,17.59M385.60,105.95l15.30,17.59M385.60,108.50l15.30,17.59M385.60,111.05l15.30,17.59M385.60,113.60l15.30,17.59M385.60,116.15l15.30,17.59M385.60,118.70l15.30,17.59M385.60,121.25l15.30,17.59M385.60,123.80l15.30,17.59M385.60,126.35l15.30,17.59M385.60,128.90l15.30,17.59M385.60,131.45l15.30,17.59M385.60,134.00l15.30,17.59M385.60,136.55l15.30,17.59M385.60,139.10l15.30,17.59M385.60,141.65l15.30,17.59M385.60,144.20l15.30,17.59M385.60,146.75l15.30,17.59M385.60,149.30l15.30,17.59" clip-path="url(#c1)" fill="none" stroke="#2a2a2a" stroke-width="1.0"/><rect x="386.60" y="115.73" width="13.30" height="33.67" fill="none" stroke="#444" stroke-width="0.4"/>
<path d="M379.95,88.71V87.64M377.75,87.64h4.4" class="eb"/>
<path d="M393.25,115.73V114.93M391.05,114.93h4.4" class="eb"/>
<text x="393.25" y="116.53" class="star" text-anchor="middle">**</text>
<rect x="416.90" y="110.00" width="13.3" height="39.40" fill="#000"/>
<clipPath id="c2"><rect x="430.20" y="95.76" width="13.30" height="53.64"/></clipPath><rect x="430.20" y="95.76" width="13.30" height="53.64" fill="#fff"/><path d="M429.20,77.90l15.30,17.59M429.20,80.45l15.30,17.59M429.20,83.00l15.30,17.59M429.20,85.55l15.30,17.59M429.20,88.10l15.30,17.59M429.20,90.65l15.30,17.59M429.20,93.20l15.30,17.59M429.20,95.75l15.30,17.59M429.20,98.30l15.30,17.59M429.20,100.85l15.30,17.59M429.20,103.40l15.30,17.59M429.20,105.95l15.30,17.59M429.20,108.50l15.30,17.59M429.20,111.05l15.30,17.59M429.20,113.60l15.30,17.59M429.20,116.15l15.30,17.59M429.20,118.70l15.30,17.59M429.20,121.25l15.30,17.59M429.20,123.80l15.30,17.59M429.20,126.35l15.30,17.59M429.20,128.90l15.30,17.59M429.20,131.45l15.30,17.59M429.20,134.00l15.30,17.59M429.20,136.55l15.30,17.59M429.20,139.10l15.30,17.59M429.20,141.65l15.30,17.59M429.20,144.20l15.30,17.59M429.20,146.75l15.30,17.59M429.20,149.30l15.30,17.59" clip-path="url(#c2)" fill="none" stroke="#2a2a2a" stroke-width="1.0"/><rect x="430.20" y="95.76" width="13.30" height="53.64" fill="none" stroke="#444" stroke-width="0.4"/>
<path d="M423.55,110.00V108.27M421.35,108.27h4.4" class="eb"/>
<path d="M436.85,95.76V92.70M434.65,92.70h4.4" class="eb"/>
<text x="436.85" y="94.30" class="star" text-anchor="middle">**</text>
<rect x="460.60" y="116.92" width="13.3" height="32.48" fill="#000"/>
<clipPath id="c3"><rect x="473.90" y="103.35" width="13.30" height="46.05"/></clipPath><rect x="473.90" y="103.35" width="13.30" height="46.05" fill="#fff"/><path d="M472.90,85.55l15.30,17.59M472.90,88.10l15.30,17.59M472.90,90.65l15.30,17.59M472.90,93.20l15.30,17.59M472.90,95.75l15.30,17.59M472.90,98.30l15.30,17.59M472.90,100.85l15.30,17.59M472.90,103.40l15.30,17.59M472.90,105.95l15.30,17.59M472.90,108.50l15.30,17.59M472.90,111.05l15.30,17.59M472.90,113.60l15.30,17.59M472.90,116.15l15.30,17.59M472.90,118.70l15.30,17.59M472.90,121.25l15.30,17.59M472.90,123.80l15.30,17.59M472.90,126.35l15.30,17.59M472.90,128.90l15.30,17.59M472.90,131.45l15.30,17.59M472.90,134.00l15.30,17.59M472.90,136.55l15.30,17.59M472.90,139.10l15.30,17.59M472.90,141.65l15.30,17.59M472.90,144.20l15.30,17.59M472.90,146.75l15.30,17.59M472.90,149.30l15.30,17.59" clip-path="url(#c3)" fill="none" stroke="#2a2a2a" stroke-width="1.0"/><rect x="473.90" y="103.35" width="13.30" height="46.05" fill="none" stroke="#444" stroke-width="0.4"/>
<path d="M467.25,116.92V115.59M465.05,115.59h4.4" class="eb"/>
<path d="M480.55,103.35V101.35M478.35,101.35h4.4" class="eb"/>
<text x="480.55" y="102.95" class="star" text-anchor="middle">*</text>
<path d="M342.3,16.30V149.40H519" class="bax"/>
<text x="338.0" y="151.80" class="btl" text-anchor="end">0</text>
<text x="338.0" y="125.18" class="btl" text-anchor="end">20</text>
<text x="338.0" y="98.56" class="btl" text-anchor="end">40</text>
<text x="338.0" y="71.94" class="btl" text-anchor="end">60</text>
<text x="338.0" y="45.32" class="btl" text-anchor="end">80</text>
<text x="338.0" y="18.70" class="btl" text-anchor="end">100</text>
<path d="M340.1,149.40h2.2M340.1,122.78h2.2M340.1,96.16h2.2M340.1,69.54h2.2M340.1,42.92h2.2M340.1,16.30h2.2" class="bax"/>
<text x="386.00" y="158.00" class="btl" text-anchor="middle">G1</text>
<text x="429.60" y="158.00" class="btl" text-anchor="middle">S</text>
<text x="473.30" y="158.00" class="btl" text-anchor="middle">G2/M</text>
<text transform="translate(321.5,82.85) rotate(-90)" class="byl" text-anchor="middle">% Cells in each phase</text>
<rect x="472.4" y="17.30" width="46.9" height="20.1" fill="#fff" stroke="#111" stroke-width="0.8"/>
<rect x="475.4" y="20.40" width="11.4" height="2.7" fill="#000"/>
<clipPath id="c4"><rect x="475.40" y="29.80" width="11.40" height="3.00"/></clipPath><rect x="475.40" y="29.80" width="11.40" height="3.00" fill="#fff"/><path d="M474.40,14.05l13.40,15.41M474.40,15.95l13.40,15.41M474.40,17.85l13.40,15.41M474.40,19.75l13.40,15.41M474.40,21.65l13.40,15.41M474.40,23.55l13.40,15.41M474.40,25.45l13.40,15.41M474.40,27.35l13.40,15.41M474.40,29.25l13.40,15.41M474.40,31.15l13.40,15.41" clip-path="url(#c4)" fill="none" stroke="#2a2a2a" stroke-width="0.7"/><rect x="475.40" y="29.80" width="11.40" height="3.00" fill="none" stroke="#444" stroke-width="0.3"/>
<text x="489" y="24.20" class="lg">0 µg/ml</text>
<text x="489" y="33.50" class="lg">50 µg/ml</text>
<rect x="373.30" y="214.64" width="13.3" height="92.66" fill="#000"/>
<clipPath id="c5"><rect x="386.60" y="231.11" width="13.30" height="76.19"/></clipPath><rect x="386.60" y="231.11" width="13.30" height="76.19" fill="#fff"/><path d="M385.60,213.05l15.30,17.59M385.60,215.60l15.30,17.59M385.60,218.15l15.30,17.59M385.60,220.70l15.30,17.59M385.60,223.25l15.30,17.59M385.60,225.80l15.30,17.59M385.60,228.35l15.30,17.59M385.60,230.90l15.30,17.59M385.60,233.45l15.30,17.59M385.60,236.00l15.30,17.59M385.60,238.55l15.30,17.59M385.60,241.10l15.30,17.59M385.60,243.65l15.30,17.59M385.60,246.20l15.30,17.59M385.60,248.75l15.30,17.59M385.60,251.30l15.30,17.59M385.60,253.85l15.30,17.59M385.60,256.40l15.30,17.59M385.60,258.95l15.30,17.59M385.60,261.50l15.30,17.59M385.60,264.05l15.30,17.59M385.60,266.60l15.30,17.59M385.60,269.15l15.30,17.59M385.60,271.70l15.30,17.59M385.60,274.25l15.30,17.59M385.60,276.80l15.30,17.59M385.60,279.35l15.30,17.59M385.60,281.90l15.30,17.59M385.60,284.45l15.30,17.59M385.60,287.00l15.30,17.59M385.60,289.55l15.30,17.59M385.60,292.10l15.30,17.59M385.60,294.65l15.30,17.59M385.60,297.20l15.30,17.59M385.60,299.75l15.30,17.59M385.60,302.30l15.30,17.59M385.60,304.85l15.30,17.59" clip-path="url(#c5)" fill="none" stroke="#2a2a2a" stroke-width="1.0"/><rect x="386.60" y="231.11" width="13.30" height="76.19" fill="none" stroke="#444" stroke-width="0.4"/>
<path d="M379.95,214.64V212.58M377.75,212.58h4.4" class="eb"/>
<path d="M393.25,231.11V229.44M391.05,229.44h4.4" class="eb"/>
<text x="393.25" y="231.04" class="star" text-anchor="middle">*</text>
<rect x="416.90" y="289.28" width="13.3" height="18.02" fill="#000"/>
<clipPath id="c6"><rect x="430.20" y="284.13" width="13.30" height="23.17"/></clipPath><rect x="430.20" y="284.13" width="13.30" height="23.17" fill="#fff"/><path d="M429.20,264.05l15.30,17.59M429.20,266.60l15.30,17.59M429.20,269.15l15.30,17.59M429.20,271.70l15.30,17.59M429.20,274.25l15.30,17.59M429.20,276.80l15.30,17.59M429.20,279.35l15.30,17.59M429.20,281.90l15.30,17.59M429.20,284.45l15.30,17.59M429.20,287.00l15.30,17.59M429.20,289.55l15.30,17.59M429.20,292.10l15.30,17.59M429.20,294.65l15.30,17.59M429.20,297.20l15.30,17.59M429.20,299.75l15.30,17.59M429.20,302.30l15.30,17.59M429.20,304.85l15.30,17.59" clip-path="url(#c6)" fill="none" stroke="#2a2a2a" stroke-width="1.0"/><rect x="430.20" y="284.13" width="13.30" height="23.17" fill="none" stroke="#444" stroke-width="0.4"/>
<path d="M423.55,289.28V288.90M421.35,288.90h4.4" class="eb"/>
<path d="M436.85,284.13V283.23M434.65,283.23h4.4" class="eb"/>
<text x="436.85" y="284.83" class="star" text-anchor="middle">*</text>
<rect x="460.60" y="290.18" width="13.3" height="17.12" fill="#000"/>
<clipPath id="c7"><rect x="473.90" y="278.34" width="13.30" height="28.96"/></clipPath><rect x="473.90" y="278.34" width="13.30" height="28.96" fill="#fff"/><path d="M472.90,258.95l15.30,17.59M472.90,261.50l15.30,17.59M472.90,264.05l15.30,17.59M472.90,266.60l15.30,17.59M472.90,269.15l15.30,17.59M472.90,271.70l15.30,17.59M472.90,274.25l15.30,17.59M472.90,276.80l15.30,17.59M472.90,279.35l15.30,17.59M472.90,281.90l15.30,17.59M472.90,284.45l15.30,17.59M472.90,287.00l15.30,17.59M472.90,289.55l15.30,17.59M472.90,292.10l15.30,17.59M472.90,294.65l15.30,17.59M472.90,297.20l15.30,17.59M472.90,299.75l15.30,17.59M472.90,302.30l15.30,17.59M472.90,304.85l15.30,17.59" clip-path="url(#c7)" fill="none" stroke="#2a2a2a" stroke-width="1.0"/><rect x="473.90" y="278.34" width="13.30" height="28.96" fill="none" stroke="#444" stroke-width="0.4"/>
<path d="M467.25,290.18V288.25M465.05,288.25h4.4" class="eb"/>
<path d="M480.55,278.34V275.38M478.35,275.38h4.4" class="eb"/>
<text x="480.55" y="276.98" class="star" text-anchor="middle">**</text>
<path d="M342.3,178.60V307.30H519" class="bax"/>
<text x="338.0" y="309.70" class="btl" text-anchor="end">0</text>
<text x="338.0" y="283.96" class="btl" text-anchor="end">20</text>
<text x="338.0" y="258.22" class="btl" text-anchor="end">40</text>
<text x="338.0" y="232.48" class="btl" text-anchor="end">60</text>
<text x="338.0" y="206.74" class="btl" text-anchor="end">80</text>
<text x="338.0" y="181.00" class="btl" text-anchor="end">100</text>
<path d="M340.1,307.30h2.2M340.1,281.56h2.2M340.1,255.82h2.2M340.1,230.08h2.2M340.1,204.34h2.2M340.1,178.60h2.2" class="bax"/>
<text x="386.00" y="315.90" class="btl" text-anchor="middle">G1</text>
<text x="429.60" y="315.90" class="btl" text-anchor="middle">S</text>
<text x="473.30" y="315.90" class="btl" text-anchor="middle">G2/M</text>
<text transform="translate(321.5,242.95) rotate(-90)" class="byl" text-anchor="middle">% Cells in each phase</text>
<rect x="472.4" y="174.90" width="46.9" height="20.1" fill="#fff" stroke="#111" stroke-width="0.8"/>
<rect x="475.4" y="178.00" width="11.4" height="2.7" fill="#000"/>
<clipPath id="c8"><rect x="475.40" y="187.40" width="11.40" height="3.00"/></clipPath><rect x="475.40" y="187.40" width="11.40" height="3.00" fill="#fff"/><path d="M474.40,171.75l13.40,15.41M474.40,173.65l13.40,15.41M474.40,175.55l13.40,15.41M474.40,177.45l13.40,15.41M474.40,179.35l13.40,15.41M474.40,181.25l13.40,15.41M474.40,183.15l13.40,15.41M474.40,185.05l13.40,15.41M474.40,186.95l13.40,15.41M474.40,188.85l13.40,15.41" clip-path="url(#c8)" fill="none" stroke="#2a2a2a" stroke-width="0.7"/><rect x="475.40" y="187.40" width="11.40" height="3.00" fill="none" stroke="#444" stroke-width="0.3"/>
<text x="489" y="181.80" class="lg">0 µg/ml</text>
<text x="489" y="191.10" class="lg">50 µg/ml</text>
<rect x="373.30" y="363.46" width="13.3" height="101.24" fill="#000"/>
<clipPath id="c9"><rect x="386.60" y="382.93" width="13.30" height="81.77"/></clipPath><rect x="386.60" y="382.93" width="13.30" height="81.77" fill="#fff"/><path d="M385.60,363.50l15.30,17.59M385.60,366.05l15.30,17.59M385.60,368.60l15.30,17.59M385.60,371.15l15.30,17.59M385.60,373.70l15.30,17.59M385.60,376.25l15.30,17.59M385.60,378.80l15.30,17.59M385.60,381.35l15.30,17.59M385.60,383.90l15.30,17.59M385.60,386.45l15.30,17.59M385.60,389.00l15.30,17.59M385.60,391.55l15.30,17.59M385.60,394.10l15.30,17.59M385.60,396.65l15.30,17.59M385.60,399.20l15.30,17.59M385.60,401.75l15.30,17.59M385.60,404.30l15.30,17.59M385.60,406.85l15.30,17.59M385.60,409.40l15.30,17.59M385.60,411.95l15.30,17.59M385.60,414.50l15.30,17.59M385.60,417.05l15.30,17.59M385.60,419.60l15.30,17.59M385.60,422.15l15.30,17.59M385.60,424.70l15.30,17.59M385.60,427.25l15.30,17.59M385.60,429.80l15.30,17.59M385.60,432.35l15.30,17.59M385.60,434.90l15.30,17.59M385.60,437.45l15.30,17.59M385.60,440.00l15.30,17.59M385.60,442.55l15.30,17.59M385.60,445.10l15.30,17.59M385.60,447.65l15.30,17.59M385.60,450.20l15.30,17.59M385.60,452.75l15.30,17.59M385.60,455.30l15.30,17.59M385.60,457.85l15.30,17.59M385.60,460.40l15.30,17.59M385.60,462.95l15.30,17.59" clip-path="url(#c9)" fill="none" stroke="#2a2a2a" stroke-width="1.0"/><rect x="386.60" y="382.93" width="13.30" height="81.77" fill="none" stroke="#444" stroke-width="0.4"/>
<path d="M379.95,363.46V363.07M377.75,363.07h4.4" class="eb"/>
<path d="M393.25,382.93V381.24M391.05,381.24h4.4" class="eb"/>
<text x="393.25" y="382.84" class="star" text-anchor="middle">*</text>
<rect x="416.90" y="449.12" width="13.3" height="15.58" fill="#000"/>
<clipPath id="c10"><rect x="430.20" y="446.01" width="13.30" height="18.69"/></clipPath><rect x="430.20" y="446.01" width="13.30" height="18.69" fill="#fff"/><path d="M429.20,427.25l15.30,17.59M429.20,429.80l15.30,17.59M429.20,432.35l15.30,17.59M429.20,434.90l15.30,17.59M429.20,437.45l15.30,17.59M429.20,440.00l15.30,17.59M429.20,442.55l15.30,17.59M429.20,445.10l15.30,17.59M429.20,447.65l15.30,17.59M429.20,450.20l15.30,17.59M429.20,452.75l15.30,17.59M429.20,455.30l15.30,17.59M429.20,457.85l15.30,17.59M429.20,460.40l15.30,17.59M429.20,462.95l15.30,17.59" clip-path="url(#c10)" fill="none" stroke="#2a2a2a" stroke-width="1.0"/><rect x="430.20" y="446.01" width="13.30" height="18.69" fill="none" stroke="#444" stroke-width="0.4"/>
<path d="M423.55,449.12V448.73M421.35,448.73h4.4" class="eb"/>
<path d="M436.85,446.01V445.36M434.65,445.36h4.4" class="eb"/>
<text x="436.85" y="446.96" class="star" text-anchor="middle">*</text>
<rect x="460.60" y="451.72" width="13.3" height="12.98" fill="#000"/>
<clipPath id="c11"><rect x="473.90" y="434.85" width="13.30" height="29.85"/></clipPath><rect x="473.90" y="434.85" width="13.30" height="29.85" fill="#fff"/><path d="M472.90,417.05l15.30,17.59M472.90,419.60l15.30,17.59M472.90,422.15l15.30,17.59M472.90,424.70l15.30,17.59M472.90,427.25l15.30,17.59M472.90,429.80l15.30,17.59M472.90,432.35l15.30,17.59M472.90,434.90l15.30,17.59M472.90,437.45l15.30,17.59M472.90,440.00l15.30,17.59M472.90,442.55l15.30,17.59M472.90,445.10l15.30,17.59M472.90,447.65l15.30,17.59M472.90,450.20l15.30,17.59M472.90,452.75l15.30,17.59M472.90,455.30l15.30,17.59M472.90,457.85l15.30,17.59M472.90,460.40l15.30,17.59M472.90,462.95l15.30,17.59" clip-path="url(#c11)" fill="none" stroke="#2a2a2a" stroke-width="1.0"/><rect x="473.90" y="434.85" width="13.30" height="29.85" fill="none" stroke="#444" stroke-width="0.4"/>
<path d="M467.25,451.72V451.20M465.05,451.20h4.4" class="eb"/>
<path d="M480.55,434.85V433.16M478.35,433.16h4.4" class="eb"/>
<text x="480.55" y="434.76" class="star" text-anchor="middle">***</text>
<path d="M342.3,334.90V464.70H519" class="bax"/>
<text x="338.0" y="467.10" class="btl" text-anchor="end">0</text>
<text x="338.0" y="441.14" class="btl" text-anchor="end">20</text>
<text x="338.0" y="415.18" class="btl" text-anchor="end">40</text>
<text x="338.0" y="389.22" class="btl" text-anchor="end">60</text>
<text x="338.0" y="363.26" class="btl" text-anchor="end">80</text>
<text x="338.0" y="337.30" class="btl" text-anchor="end">100</text>
<path d="M340.1,464.70h2.2M340.1,438.74h2.2M340.1,412.78h2.2M340.1,386.82h2.2M340.1,360.86h2.2M340.1,334.90h2.2" class="bax"/>
<text x="386.00" y="473.30" class="btl" text-anchor="middle">G1</text>
<text x="429.60" y="473.30" class="btl" text-anchor="middle">S</text>
<text x="473.30" y="473.30" class="btl" text-anchor="middle">G2/M</text>
<text transform="translate(321.5,399.80) rotate(-90)" class="byl" text-anchor="middle">% Cells in each phase</text>
<rect x="472.4" y="333.00" width="46.9" height="20.1" fill="#fff" stroke="#111" stroke-width="0.8"/>
<rect x="475.4" y="336.10" width="11.4" height="2.7" fill="#000"/>
<clipPath id="c12"><rect x="475.40" y="345.50" width="11.40" height="3.00"/></clipPath><rect x="475.40" y="345.50" width="11.40" height="3.00" fill="#fff"/><path d="M474.40,329.45l13.40,15.41M474.40,331.35l13.40,15.41M474.40,333.25l13.40,15.41M474.40,335.15l13.40,15.41M474.40,337.05l13.40,15.41M474.40,338.95l13.40,15.41M474.40,340.85l13.40,15.41M474.40,342.75l13.40,15.41M474.40,344.65l13.40,15.41M474.40,346.55l13.40,15.41M474.40,348.45l13.40,15.41" clip-path="url(#c12)" fill="none" stroke="#2a2a2a" stroke-width="0.7"/><rect x="475.40" y="345.50" width="11.40" height="3.00" fill="none" stroke="#444" stroke-width="0.3"/>
<text x="489" y="339.90" class="lg">0 µg/ml</text>
<text x="489" y="349.20" class="lg">50 µg/ml</text>
</svg></body></html>
